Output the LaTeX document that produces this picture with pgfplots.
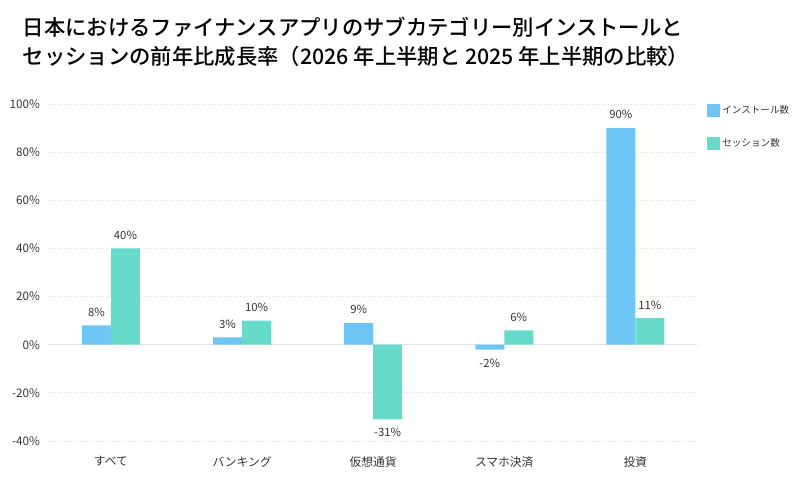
\documentclass[border=0pt]{standalone}
\usepackage{fontspec}
\setmainfont{Noto Sans CJK JP}[BoldFont={Noto Sans CJK JP Bold}]
\newfontfamily\titlefont{Noto Sans CJK JP Medium}
\usepackage{pgfplots}
\pgfplotsset{compat=1.18}
\definecolor{cblue}{HTML}{6EC6F6}
\definecolor{cgreen}{HTML}{66DBC9}
\definecolor{ctext}{HTML}{333333}
\definecolor{cgrid}{HTML}{DDDDDD}
\begin{document}
\begin{tikzpicture}
\useasboundingbox (0,0) rectangle (597.75pt,369pt);
\node[anchor=base west, inner sep=0pt, font=\titlefont\fontsize{16pt}{19pt}\selectfont] at (17pt,369pt-26.8pt) {日本におけるファイナンスアプリのサブカテゴリー別インストールと};
\node[anchor=base west, inner sep=0pt, font=\titlefont\fontsize{16pt}{19pt}\selectfont] at (17pt,369pt-48.6pt) {セッションの前年比成長率（2026 年上半期と 2025 年上半期の比較）};
\begin{axis}[
  at={(36pt,38.25pt)}, anchor=south west,
  scale only axis, width=486.75pt, height=252.75pt,
  ybar=0pt, bar width=21.75pt,
  xmin=-0.48, xmax=4.47,
  ymin=-40, ymax=100,
  ytick={-40,-20,...,100},
  yticklabel={\pgfmathprintnumber{\tick}\%},
  /pgf/number format/assume math mode=true,
  xtick={0,1,2,3,4},
  xticklabels={すべて,バンキング,仮想通貨,スマホ決済,投資},
  axis line style={draw=none},
  major tick length=0pt,
  ymajorgrids, grid style={cgrid, dotted, line width=0.6pt},
  extra y ticks={0}, extra y tick labels={},
  extra y tick style={grid style={solid, draw=cgrid!80!white, line width=0.8pt}},
  tick label style={font=\fontsize{8.8pt}{10pt}\selectfont, text=ctext},
  yticklabel style={xshift=-2.5pt},
  xticklabel style={yshift=-8pt},
  nodes near coords={\pgfmathprintnumber{\pgfplotspointmeta}\%},
  nodes near coords style={font=\fontsize{8.5pt}{10pt}\selectfont, text=ctext, inner sep=6.6pt},
  legend style={at={(1.0,1.012)}, xshift=4pt, anchor=north west, draw=none, fill=none,
    font=\fontsize{7.2pt}{9pt}\selectfont, text=ctext, row sep=13pt,
    /tikz/every even column/.append style={column sep=2pt}},
  legend cell align=left,
  legend image code/.code={\fill[#1] (0pt,-4.9pt) rectangle (9.75pt,4.9pt);},
]
\addplot[fill=cblue, draw=none] coordinates {(0,8) (1,3) (2,9) (3,-2) (4,90)};
\addplot[fill=cgreen, draw=none] coordinates {(0,40) (1,10) (2,-31) (3,6) (4,11)};
\legend{インストール数,セッション数}
\end{axis}
\end{tikzpicture}
\end{document}
